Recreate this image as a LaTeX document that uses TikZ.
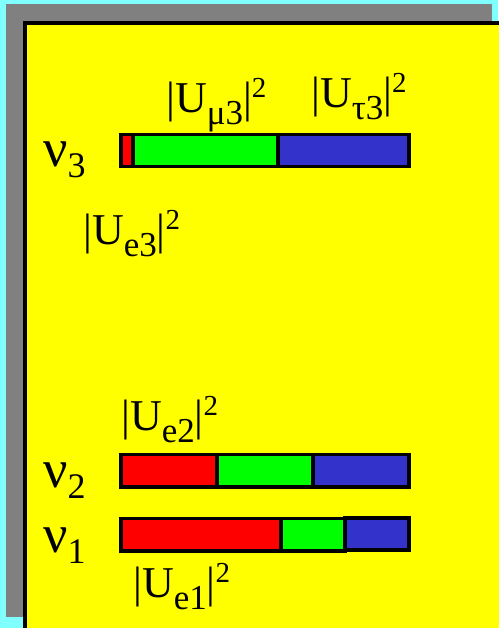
\documentclass[tikz,border=0pt]{standalone}
\usepackage{fontspec}
\setmainfont{Liberation Serif}
\usetikzlibrary{positioning}
\definecolor{bgcyan}{HTML}{80FFFF}
\definecolor{shgray}{HTML}{808080}
\definecolor{pyellow}{HTML}{FFFF00}
\definecolor{pred}{HTML}{FF0000}
\definecolor{pgreen}{HTML}{00FF00}
\definecolor{pblue}{HTML}{3333CC}
\newcommand{\lsub}[1]{\raisebox{-12pt}{\fontsize{35}{35}\selectfont #1}}
\newcommand{\lsup}[1]{\raisebox{15pt}{\fontsize{29}{29}\selectfont #1}}
\newcommand{\Usq}[1]{|U\lsub{#1}|\lsup{2}}
\newcommand{\nuof}[1]{{\fontsize{54}{54}\selectfont ν}\raisebox{-11pt}{\fontsize{36}{36}\selectfont #1}}
\tikzset{lab/.style={anchor=base west,inner sep=0pt,font=\fontsize{44}{44}\selectfont},
  seg/.style={line width=3.5pt,line join=miter}}

\begin{document}
\begin{tikzpicture}[x=1pt,y=-1pt]
\useasboundingbox(0,0)rectangle(498,628);
\fill[bgcyan](0,0)rectangle(498,628);
\fill[shgray](6,4)rectangle(492,617);
\draw[line width=4pt,fill=pyellow](25,23)rectangle(520,650);
% nu_3
\fill[pred](121,134.5)rectangle(133,166.5);\fill[pgreen](133,134.5)rectangle(278,166.5);\fill[pblue](278,134.5)rectangle(409,166.5);
\draw[seg](121,134.5)rectangle(409,166.5)(133,134.5)--(133,166.5)(278,134.5)--(278,166.5);
% nu_2
\fill[pred](121,454.5)rectangle(217,487);\fill[pgreen](217,454.5)rectangle(313,487);\fill[pblue](313,454.5)rectangle(409,487);
\draw[seg](121,454.5)rectangle(409,487)(217,454.5)--(217,487)(313,454.5)--(313,487);
% nu_1
\fill[pred](121,518.5)rectangle(281,551);\fill[pgreen](281,518.5)rectangle(345,551);\fill[pblue](345,518)rectangle(409,550);
\draw[seg](121,518.5)rectangle(345,551)(281,518.5)--(281,551)(345,518)rectangle(409,550);
\node[lab](n3)at(43,167){\nuof{3}};
\node[lab](n2)at(43,487){\nuof{2}};
\node[lab](n1)at(43,552){\nuof{1}};
\node[lab](um3)at(166,113){\Usq{μ3}};
\node[lab](ut3)at(311,108){\Usq{τ3}};
\node[lab](ue3)at(83,244){\Usq{e3}};
\node[lab](ue2)at(121,430){\Usq{e2}};
\node[lab](ue1)at(133,597){\Usq{e1}};
\end{tikzpicture}
\end{document}
